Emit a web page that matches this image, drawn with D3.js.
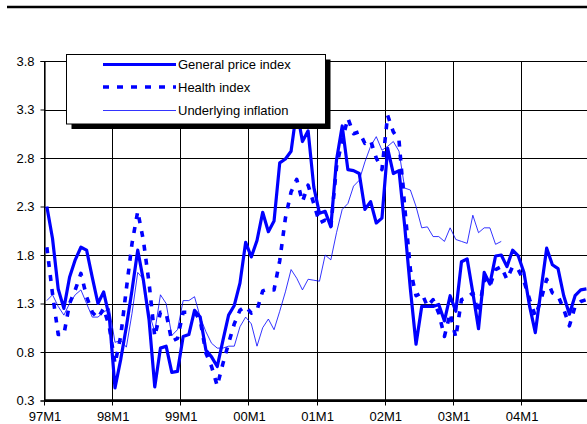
<!DOCTYPE html>
<html>
<head>
<meta charset="utf-8">
<script src="https://cdn.jsdelivr.net/npm/d3@7/dist/d3.min.js"></script>
<style>
  html, body { margin: 0; padding: 0; background: #fff; }
  svg { display: block; }
  text { font-family: "Liberation Sans", Arial, sans-serif; fill: #000; }
</style>
</head>
<body>
<svg id="chart" width="587" height="424"></svg>
<script>
// Year-on-year inflation, monthly, 1997M1 - 2004M12 (%)
const years = ["97", "98", "99", "00", "01", "02", "03", "04"];
const tickLabels = ["97M1", "98M1", "99M1", "00M1", "01M1", "02M1", "03M1", "04M1"];
const yTicks = [0.3, 0.8, 1.3, 1.8, 2.3, 2.8, 3.3, 3.8];

const generalIndex = [
  2.30, 1.97, 1.45, 1.25, 1.57, 1.75, 1.88, 1.85, 1.57, 1.30, 1.42, 1.16,
  0.43, 0.72, 1.06, 1.44, 1.85, 1.54, 1.13, 0.44, 0.84, 0.86, 0.59, 0.60,
  0.96, 0.98, 1.23, 1.16, 0.82, 0.75, 0.65, 0.92, 1.18, 1.28, 1.51, 1.93,
  1.78, 1.95, 2.24, 2.04, 2.15, 2.75, 2.79, 2.87, 3.30, 2.97, 3.08, 2.50,
  2.23, 2.25, 2.09, 2.78, 3.13, 2.68, 2.67, 2.64, 2.27, 2.35, 2.13, 2.18,
  2.90, 2.64, 2.67, 2.10, 1.45, 0.88, 1.27, 1.27, 1.27, 1.29, 1.12, 1.38,
  1.22, 1.73, 1.76, 1.41, 1.04, 1.62, 1.50, 1.79, 1.80, 1.68, 1.85, 1.79,
  1.62, 1.27, 1.00, 1.44, 1.87, 1.70, 1.66, 1.38, 1.19, 1.38, 1.44, 1.45
];

const healthIndex = [
  1.88, 1.40, 0.98, 0.98, 1.30, 1.44, 1.61, 1.37, 1.21, 1.15, 1.25, 1.06,
  0.68, 0.96, 1.45, 1.92, 2.25, 1.95, 1.51, 0.96, 1.21, 1.20, 0.91, 0.94,
  1.21, 1.21, 1.21, 1.13, 0.79, 0.65, 0.45, 0.68, 0.89, 1.09, 1.23, 1.27,
  1.20, 1.23, 1.43, 1.45, 1.44, 1.74, 2.18, 2.45, 2.58, 2.35, 2.52, 2.33,
  2.13, 2.16, 2.09, 2.71, 2.98, 3.21, 3.05, 3.07, 2.95, 2.98, 2.80, 2.68,
  3.24, 3.07, 2.98, 2.30, 1.65, 1.38, 1.41, 1.27, 1.34, 1.20, 0.96, 1.20,
  0.95, 1.34, 1.36, 1.41, 1.20, 1.55, 1.48, 1.65, 1.68, 1.55, 1.68, 1.65,
  1.53, 1.34, 1.17, 1.34, 1.55, 1.41, 1.38, 1.24, 1.07, 1.27, 1.32, 1.34
];

const underlying = [
  1.33, 1.39, 1.27, 1.18, 1.30, 1.39, 1.44, 1.30, 1.16, 1.16, 1.21, 1.25,
  0.90, 0.92, 0.85, 1.20, 1.62, 1.55, 1.20, 1.01, 1.39, 1.30, 0.97, 1.03,
  1.33, 1.33, 1.37, 1.16, 1.01, 0.89, 0.84, 0.84, 0.86, 0.86, 1.06, 1.16,
  1.09, 0.86, 1.05, 1.14, 1.03, 1.22, 1.42, 1.65, 1.56, 1.44, 1.55, 1.54,
  1.53, 1.80, 1.75, 2.03, 2.27, 2.33, 2.51, 2.57, 2.76, 2.92, 3.02, 2.88,
  2.92, 2.97, 2.87, 2.49, 2.47, 2.30, 2.08, 2.09, 1.99, 1.99, 1.94, 2.08,
  1.96, 1.94, 1.92, 2.21, 2.03, 2.08, 2.08, 1.91, 1.94, null, null, null,
  null, null, null, null, null, null, null, null, null, null, null, null
];

// Category labels: one per month
const months = [];
years.forEach(yr => { for (let m = 1; m <= 12; m++) months.push(yr + "M" + m); });

const svg = d3.select("#chart");
const plotLeft = 44, monthW = 5.68;
const plotRight = plotLeft + months.length * monthW;   // runs past the right edge
const plotTop = 61, plotBottom = 400.5;
const blue = "#0000ff";

const x = d3.scalePoint().domain(months).range([plotLeft, plotRight]).padding(0.5);
const y = d3.scaleLinear().domain([0.3, 3.8]).range([plotBottom, plotTop]);
const step = x.step();

// Rule under the heading
svg.append("line")
  .attr("x1", 7).attr("x2", 587).attr("y1", 7).attr("y2", 7)
  .attr("stroke", "#000").attr("stroke-width", 2.4);

// Horizontal grid
svg.append("g")
  .selectAll("line").data(yTicks).join("line")
  .attr("x1", plotLeft).attr("x2", 587)
  .attr("y1", d => Math.round(y(d)) + 0.5).attr("y2", d => Math.round(y(d)) + 0.5)
  .attr("stroke", "#000").attr("stroke-width", 1);

// Vertical grid at each January
svg.append("g")
  .selectAll("line").data(tickLabels).join("line")
  .attr("x1", d => Math.round(x(d) - step / 2) + 0.5)
  .attr("x2", d => Math.round(x(d) - step / 2) + 0.5)
  .attr("y1", y(3.8)).attr("y2", plotBottom + 5)
  .attr("stroke", "#000").attr("stroke-width", 1);

// Y axis
const yAxis = d3.axisLeft(y).tickValues(yTicks).tickSize(4).tickPadding(6)
  .tickFormat(d3.format(".1f"));
svg.append("g")
  .attr("transform", `translate(${plotLeft + 0.5},0)`)
  .call(yAxis)
  .call(g => g.select(".domain").attr("stroke-width", 1.2))
  .call(g => g.selectAll("text").attr("font-size", 13)
    .attr("font-family", "'Liberation Sans', Arial, sans-serif"));

// X axis line (thick) and labels
svg.append("line")
  .attr("x1", plotLeft).attr("x2", 587).attr("y1", plotBottom).attr("y2", plotBottom)
  .attr("stroke", "#000").attr("stroke-width", 2.6);

svg.append("g")
  .selectAll("text").data(tickLabels).join("text")
  .attr("x", d => x(d) - step / 2 + 1)
  .attr("y", 421)
  .attr("text-anchor", "middle")
  .attr("font-size", 13)
  .text(d => d);

// Series
const line = d3.line()
  .defined(d => d.v !== null)
  .x(d => x(d.m))
  .y(d => y(d.v));

const series = [
  { name: "General price index", values: generalIndex, width: 3.2, dash: null },
  { name: "Health index", values: healthIndex, width: 3.6, dash: "6,8" },
  { name: "Underlying inflation", values: underlying, width: 0.8, dash: null }
];

const plot = svg.append("g");
plot.append("clipPath").attr("id", "plotclip")
  .append("rect").attr("x", plotLeft).attr("y", plotTop - 5)
  .attr("width", plotRight - plotLeft).attr("height", plotBottom - plotTop + 5);

series.slice().reverse().forEach(s => {
  plot.append("path")
    .datum(months.map((m, i) => ({ m, v: s.values[i] })))
    .attr("clip-path", "url(#plotclip)")
    .attr("fill", "none")
    .attr("stroke", blue)
    .attr("stroke-width", s.width)
    .attr("stroke-linejoin", "round")
    .attr("stroke-dasharray", s.dash)
    .attr("d", line);
});

// Legend with drop shadow
const lg = svg.append("g");
const lx = 66.5, ly = 54.5, lw = 259, lh = 69.5;
lg.append("rect").attr("x", lx + 5).attr("y", ly + 5).attr("width", lw).attr("height", lh)
  .attr("fill", "#000");
lg.append("rect").attr("x", lx).attr("y", ly).attr("width", lw).attr("height", lh)
  .attr("fill", "#fff").attr("stroke", "#000").attr("stroke-width", 1);

const rowY = [64.5, 87, 110.5];
series.forEach((s, i) => {
  lg.append("line")
    .attr("x1", 103).attr("x2", 176)
    .attr("y1", rowY[i]).attr("y2", rowY[i])
    .attr("stroke", blue)
    .attr("stroke-width", s.width)
    .attr("stroke-dasharray", s.dash);
  lg.append("text")
    .attr("x", 178).attr("y", rowY[i])
    .attr("dy", "0.36em")
    .attr("font-size", 13)
    .text(s.name);
});
</script>
</body>
</html>
